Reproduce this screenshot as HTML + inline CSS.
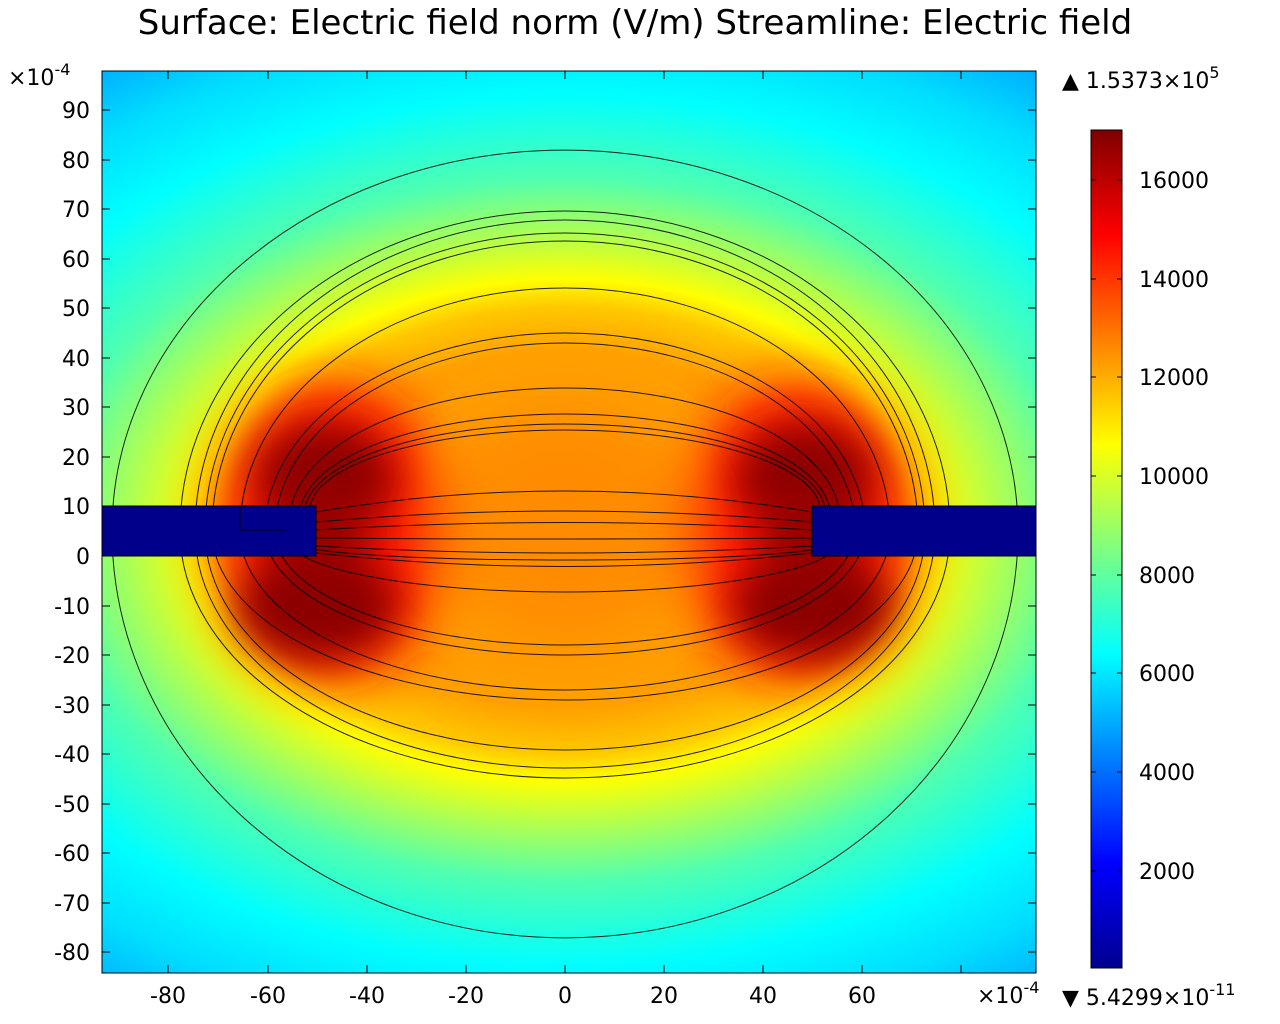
<!DOCTYPE html>
<html><head><meta charset="utf-8"><style>
body{margin:0;background:#fff;}
svg{display:block;font-family:"DejaVu Sans","Liberation Sans",sans-serif;}
</style></head><body>
<svg width="1280" height="1024" viewBox="0 0 1280 1024" xmlns="http://www.w3.org/2000/svg">
<defs>
<radialGradient id="bg" gradientUnits="userSpaceOnUse" cx="565" cy="530" r="820" gradientTransform="translate(565,530) scale(1,0.68) translate(-565,-530)">
<stop offset="0" stop-color="#ff9400"/>
<stop offset="0.32" stop-color="#ffa000"/>
<stop offset="0.40" stop-color="#ffc800"/>
<stop offset="0.45" stop-color="#ffff00"/>
<stop offset="0.53" stop-color="#b0ff50"/>
<stop offset="0.63" stop-color="#50ffb0"/>
<stop offset="0.78" stop-color="#00ffff"/>
<stop offset="0.90" stop-color="#00ddff"/>
<stop offset="1" stop-color="#00b0ff"/>
</radialGradient>
<filter id="bl" x="-50%" y="-50%" width="200%" height="200%"><feGaussianBlur stdDeviation="28"/></filter>
<filter id="bl2" x="-50%" y="-50%" width="200%" height="200%"><feGaussianBlur stdDeviation="20"/></filter>
<linearGradient id="jet" x1="0" y1="1" x2="0" y2="0">
<stop offset="0" stop-color="#00008f"/>
<stop offset="0.125" stop-color="#0000ff"/>
<stop offset="0.375" stop-color="#00ffff"/>
<stop offset="0.625" stop-color="#ffff00"/>
<stop offset="0.875" stop-color="#ff0000"/>
<stop offset="1" stop-color="#800000"/>
</linearGradient>
<clipPath id="pc"><rect x="102" y="71" width="934" height="902"/></clipPath>
</defs>
<text x="635" y="34" font-size="34" text-anchor="middle">Surface: Electric field norm (V/m) Streamline: Electric field</text>
<g clip-path="url(#pc)">
<rect x="102" y="71" width="934" height="902" fill="url(#bg)"/>
<g filter="url(#bl)">
<ellipse cx="330" cy="530" rx="115" ry="150" fill="#ff1800"/>
<ellipse cx="800" cy="530" rx="115" ry="150" fill="#ff1800"/>
<ellipse cx="565" cy="525" rx="120" ry="115" fill="#ff8c00"/>
</g>
<g filter="url(#bl2)">
<ellipse cx="325" cy="478" rx="70" ry="55" fill="#8b0000"/>
<ellipse cx="318" cy="605" rx="80" ry="55" fill="#8b0000"/>
<ellipse cx="805" cy="478" rx="70" ry="55" fill="#8b0000"/>
<ellipse cx="812" cy="605" rx="80" ry="55" fill="#8b0000"/>
<ellipse cx="320" cy="531" rx="50" ry="50" fill="#9a0000"/>
<ellipse cx="810" cy="531" rx="50" ry="50" fill="#9a0000"/>
</g>
<g fill="none" stroke="#000" stroke-width="1" opacity="0.85">
<path d="M112,531 A453,381 0 0 1 1018,531 A453,407 0 0 1 112,531"/>
<path d="M180,531 A385,320 0 0 1 950,531 A385,247 0 0 1 180,531"/>
<path d="M195,531 A370,311 0 0 1 935,531 A370,237 0 0 1 195,531"/>
<path d="M205,531 A360,298 0 0 1 925,531 A360,219 0 0 1 205,531"/>
<path d="M212,531 A353,290 0 0 1 918,531 A353,169 0 0 1 212,531"/>
<path d="M240,531 A325,243 0 0 1 890,531 A325,159 0 0 1 240,531"/>
<path d="M265,531 A300,198 0 0 1 865,531 A300,124 0 0 1 265,531"/>
<path d="M275,531 A290,188 0 0 1 855,531 A290,114 0 0 1 275,531"/>
<path d="M290,520 A275,132 0 0 1 840,520 M290,540 A275,52 0 0 0 840,540"/>
<path d="M300,515 A265,101 0 0 1 830,515 M305,545 A260,15 0 0 0 825,545"/>
<path d="M305,512 A260,88 0 0 1 825,512"/>
<path d="M310,510 A255,80 0 0 1 820,510"/>
<path d="M316,512 Q565,470 812,512"/>
<path d="M316,522 Q565,500 812,522"/>
<path d="M316,530 Q565,515 812,530"/>
<path d="M316,538 Q565,540 812,538"/>
<path d="M316,546 Q565,560 812,546"/>
<path d="M316,553 Q565,580 812,553"/>
</g>
<rect x="102" y="506" width="214" height="50" fill="#00008b" stroke="#000"/>
<rect x="812" y="506" width="224" height="50" fill="#00008b" stroke="#000"/>
<path d="M240,506 V530 H286" stroke="#000" fill="none"/>
</g>
<rect x="102" y="71" width="934" height="902" fill="none" stroke="#000"/>
<g stroke="#000">
<path d="M102,110h8M102,160h8M102,209h8M102,259h8M102,308h8M102,358h8M102,407h8M102,457h8M102,506h8M102,556h8M102,606h8M102,655h8M102,705h8M102,754h8M102,804h8M102,853h8M102,903h8M102,952h8"/>
<path d="M1036,110h-8M1036,160h-8M1036,209h-8M1036,259h-8M1036,308h-8M1036,358h-8M1036,407h-8M1036,457h-8M1036,506h-8M1036,556h-8M1036,606h-8M1036,655h-8M1036,705h-8M1036,754h-8M1036,804h-8M1036,853h-8M1036,903h-8M1036,952h-8"/>
<path d="M168,973v-8M268,973v-8M367,973v-8M466,973v-8M565,973v-8M664,973v-8M763,973v-8M862,973v-8M961,973v-8"/>
<path d="M168,71v8M268,71v8M367,71v8M466,71v8M565,71v8M664,71v8M763,71v8M862,71v8M961,71v8"/>
</g>
<g font-size="22" text-anchor="end">
<text x="90" y="118">90</text><text x="90" y="168">80</text><text x="90" y="217">70</text><text x="90" y="267">60</text><text x="90" y="316">50</text><text x="90" y="366">40</text><text x="90" y="415">30</text><text x="90" y="465">20</text><text x="90" y="514">10</text><text x="90" y="564">0</text><text x="90" y="614">-10</text><text x="90" y="663">-20</text><text x="90" y="713">-30</text><text x="90" y="762">-40</text><text x="90" y="812">-50</text><text x="90" y="861">-60</text><text x="90" y="911">-70</text><text x="90" y="960">-80</text>
</g>
<g font-size="22" text-anchor="middle">
<text x="168" y="1003">-80</text><text x="268" y="1003">-60</text><text x="367" y="1003">-40</text><text x="466" y="1003">-20</text><text x="565" y="1003">0</text><text x="664" y="1003">20</text><text x="763" y="1003">40</text><text x="862" y="1003">60</text>
</g>
<text x="8" y="85" font-size="22">×10<tspan font-size="16" dy="-10">-4</tspan></text>
<text x="977" y="1003" font-size="22">×10<tspan font-size="16" dy="-10">-4</tspan></text>
<rect x="1091" y="130" width="31" height="838" fill="url(#jet)" stroke="#000"/>
<g stroke="#000">
<path d="M1091,180h5M1091,279h5M1091,377h5M1091,476h5M1091,575h5M1091,673h5M1091,772h5M1091,871h5"/>
<path d="M1122,180h-5M1122,279h-5M1122,377h-5M1122,476h-5M1122,575h-5M1122,673h-5M1122,772h-5M1122,871h-5"/>
</g>
<g font-size="22">
<text x="1139" y="188">16000</text><text x="1139" y="287">14000</text><text x="1139" y="385">12000</text><text x="1139" y="484">10000</text><text x="1139" y="583">8000</text><text x="1139" y="681">6000</text><text x="1139" y="780">4000</text><text x="1139" y="879">2000</text>
</g>
<text x="1062" y="88" font-size="22">▲ 1.5373×10<tspan font-size="16" dy="-10">5</tspan></text>
<text x="1062" y="1005" font-size="22">▼ 5.4299×10<tspan font-size="16" dy="-10">-11</tspan></text>
</svg>
</body></html>
